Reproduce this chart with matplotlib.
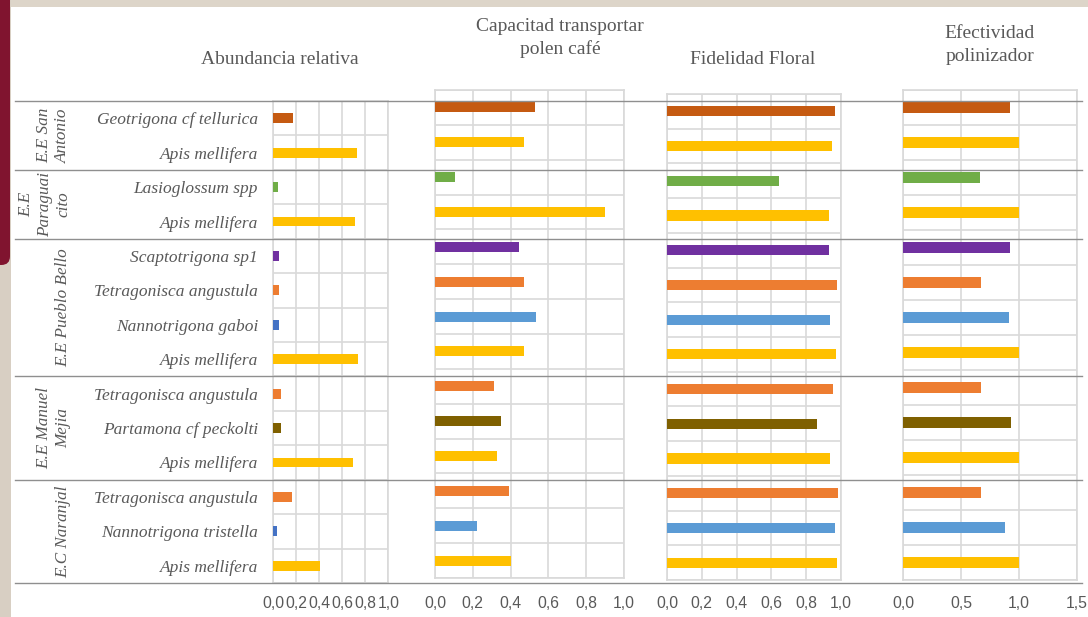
import numpy as np
import matplotlib
matplotlib.use("Agg")
import matplotlib.pyplot as plt
from matplotlib.patches import Rectangle, FancyBboxPatch
from matplotlib.lines import Line2D
from matplotlib.transforms import blended_transform_factory

# ---- data (rows listed top to bottom) ----
species = [
    "Geotrigona cf tellurica", "Apis mellifera",
    "Lasioglossum spp", "Apis mellifera",
    "Scaptotrigona sp1", "Tetragonisca angustula", "Nannotrigona gaboi", "Apis mellifera",
    "Tetragonisca angustula", "Partamona cf peckolti", "Apis mellifera",
    "Tetragonisca angustula", "Nannotrigona tristella", "Apis mellifera",
]
sites = ["E.E San\nAntonio", "E.E\nParaguai\ncito", "E.E Pueblo Bello",
         "E.E Manuel\nMejia", "E.C Naranjal"]
site_sizes = [2, 2, 4, 3, 3]

abundancia = [0.17, 0.73, 0.04, 0.71, 0.05, 0.05, 0.05, 0.74,
              0.07, 0.07, 0.69, 0.16, 0.03, 0.41]
capacidad = [0.53, 0.47, 0.105, 0.90, 0.445, 0.47, 0.535, 0.47,
             0.31, 0.35, 0.33, 0.39, 0.22, 0.40]
fidelidad = [0.966, 0.948, 0.644, 0.93, 0.93, 0.977, 0.937, 0.971,
             0.954, 0.86, 0.937, 0.983, 0.966, 0.977]
efectividad = [0.92, 1.0, 0.66, 1.0, 0.92, 0.67, 0.91, 1.0,
               0.67, 0.93, 1.0, 0.67, 0.88, 1.0]

titles = ["Abundancia relativa", "Capacitad transportar\npolen café",
          "Fidelidad Floral", "Efectividad\npolinizador"]
ticks_1 = [0.0, 0.2, 0.4, 0.6, 0.8, 1.0]
ticks_4 = [0.0, 0.5, 1.0, 1.5]

# ---- colours ----
C_APIS = "#ffc000"
C_GEO = "#c55a11"
C_LAS = "#70ad47"
C_SCA = "#7030a0"
C_TET = "#ed7d31"
C_NAN = "#5b9bd5"
C_NAN_DARK = "#4472c4"
C_PAR = "#7f6000"
bar_colors = [C_GEO, C_APIS, C_LAS, C_APIS, C_SCA, C_TET, C_NAN, C_APIS,
              C_TET, C_PAR, C_APIS, C_TET, C_NAN, C_APIS]
abund_colors = [C_NAN_DARK if c == C_NAN else c for c in bar_colors]

TXT = "#595959"
GRID = "#d9d9d9"
SEP = "#8f8f8f"
SERIF = ["Liberation Serif", "DejaVu Serif"]
SANS = ["Liberation Sans", "DejaVu Sans"]

W, H = 1088, 617
fig = plt.figure(figsize=(W / 100, H / 100), dpi=100)
fig.patch.set_facecolor("white")

# slide decoration: beige frame and burgundy tab
fig.add_artist(Rectangle((0, 1 - 7 / H), 1, 7 / H, transform=fig.transFigure,
                         facecolor="#ddd5c9", edgecolor="none", zorder=0))
fig.add_artist(Rectangle((0, 0), 11 / W, 1, transform=fig.transFigure,
                         facecolor="#d8cfc3", edgecolor="none", zorder=0))
fig.add_artist(Rectangle((0, 1 - 250 / H), 10 / W, 250 / H,
                         transform=fig.transFigure,
                         facecolor="#80142f", edgecolor="none", zorder=1))
fig.add_artist(FancyBboxPatch((-8 / W, 1 - 265 / H), 18 / W, 30 / H,
                              boxstyle="round,pad=0,rounding_size=0.008",
                              mutation_aspect=W / H,
                              transform=fig.transFigure,
                              facecolor="#80142f", edgecolor="none", zorder=1))


def px_axes(x0, x1, y0, y1):
    return fig.add_axes([x0 / W, 1 - y1 / H, (x1 - x0) / W, (y1 - y0) / H])


n = len(species)
ypos = np.arange(n)

panels = [
    dict(vals=abundancia, colors=abund_colors, xmax=1.0, ticks=ticks_1,
         box=(273.3, 388.3, 101, 583), title_xy=(280, 60)),
    dict(vals=capacidad, colors=bar_colors, xmax=1.0, ticks=ticks_1,
         box=(435, 624, 90, 578), title_xy=(560, 38)),
    dict(vals=fidelidad, colors=bar_colors, xmax=1.0, ticks=ticks_1,
         box=(667, 841, 94, 580), title_xy=(753, 60)),
    dict(vals=efectividad, colors=bar_colors, xmax=1.5, ticks=ticks_4,
         box=(903, 1077, 90, 580), title_xy=(990, 45)),
]

axes = []
for i, p in enumerate(panels):
    x0, x1, y0, y1 = p["box"]
    ax = px_axes(x0, x1, y0, y1)
    axes.append(ax)
    ax.set_facecolor("none")
    ax.barh(ypos, p["vals"], height=0.29, color=p["colors"], zorder=3)
    ax.set_xlim(0, p["xmax"])
    ax.set_ylim(n - 0.5, -0.5)
    ax.set_xticks(p["ticks"])
    ax.set_xticklabels([f"{t:.1f}".replace(".", ",") for t in p["ticks"]],
                       fontfamily=SANS, fontsize=11.3, color=TXT)
    pad_px = 596 - y1
    ax.tick_params(axis="x", length=0, pad=pad_px * 0.72)
    ax.set_yticks(np.arange(-0.5, n, 1.0), minor=True)
    ax.tick_params(axis="y", which="both", length=0)
    ax.grid(True, axis="x", which="major", color=GRID, lw=1.2, zorder=0)
    ax.grid(True, axis="y", which="minor", color=GRID, lw=1.2, zorder=0)
    ax.set_axisbelow(True)
    for s in ax.spines.values():
        s.set_color(GRID)
        s.set_linewidth(1.2)
    if i == 0:
        ax.set_yticks(ypos)
        ax.set_yticklabels(species, fontfamily=SERIF, fontstyle="italic",
                           fontsize=12.5, color=TXT)
        ax.tick_params(axis="y", which="major", pad=11)
    else:
        ax.set_yticks([])
    tx, ty = p["title_xy"]
    fig.text(tx / W, 1 - ty / H, titles[i], ha="center", va="center",
             multialignment="center", fontfamily=SERIF, fontsize=14,
             color=TXT, linespacing=1.4)

# site separators and rotated site labels, aligned to the first panel's rows
ax1 = axes[0]
trans = blended_transform_factory(fig.transFigure, ax1.transData)
bounds = np.concatenate([[0], np.cumsum(site_sizes)]) - 0.5
for b in bounds:
    fig.add_artist(Line2D([15 / W, 1082 / W], [b, b], transform=trans,
                          color=SEP, lw=1.0, zorder=5))
for k, name in enumerate(sites):
    centre = (bounds[k] + bounds[k + 1]) / 2
    fig.text(71 / W, centre, name, transform=trans, rotation=90,
             ha="right", va="center", multialignment="center",
             fontfamily=SERIF, fontstyle="italic", fontsize=12.3,
             color=TXT, linespacing=1.2)

fig.savefig("out.png", dpi=100)
